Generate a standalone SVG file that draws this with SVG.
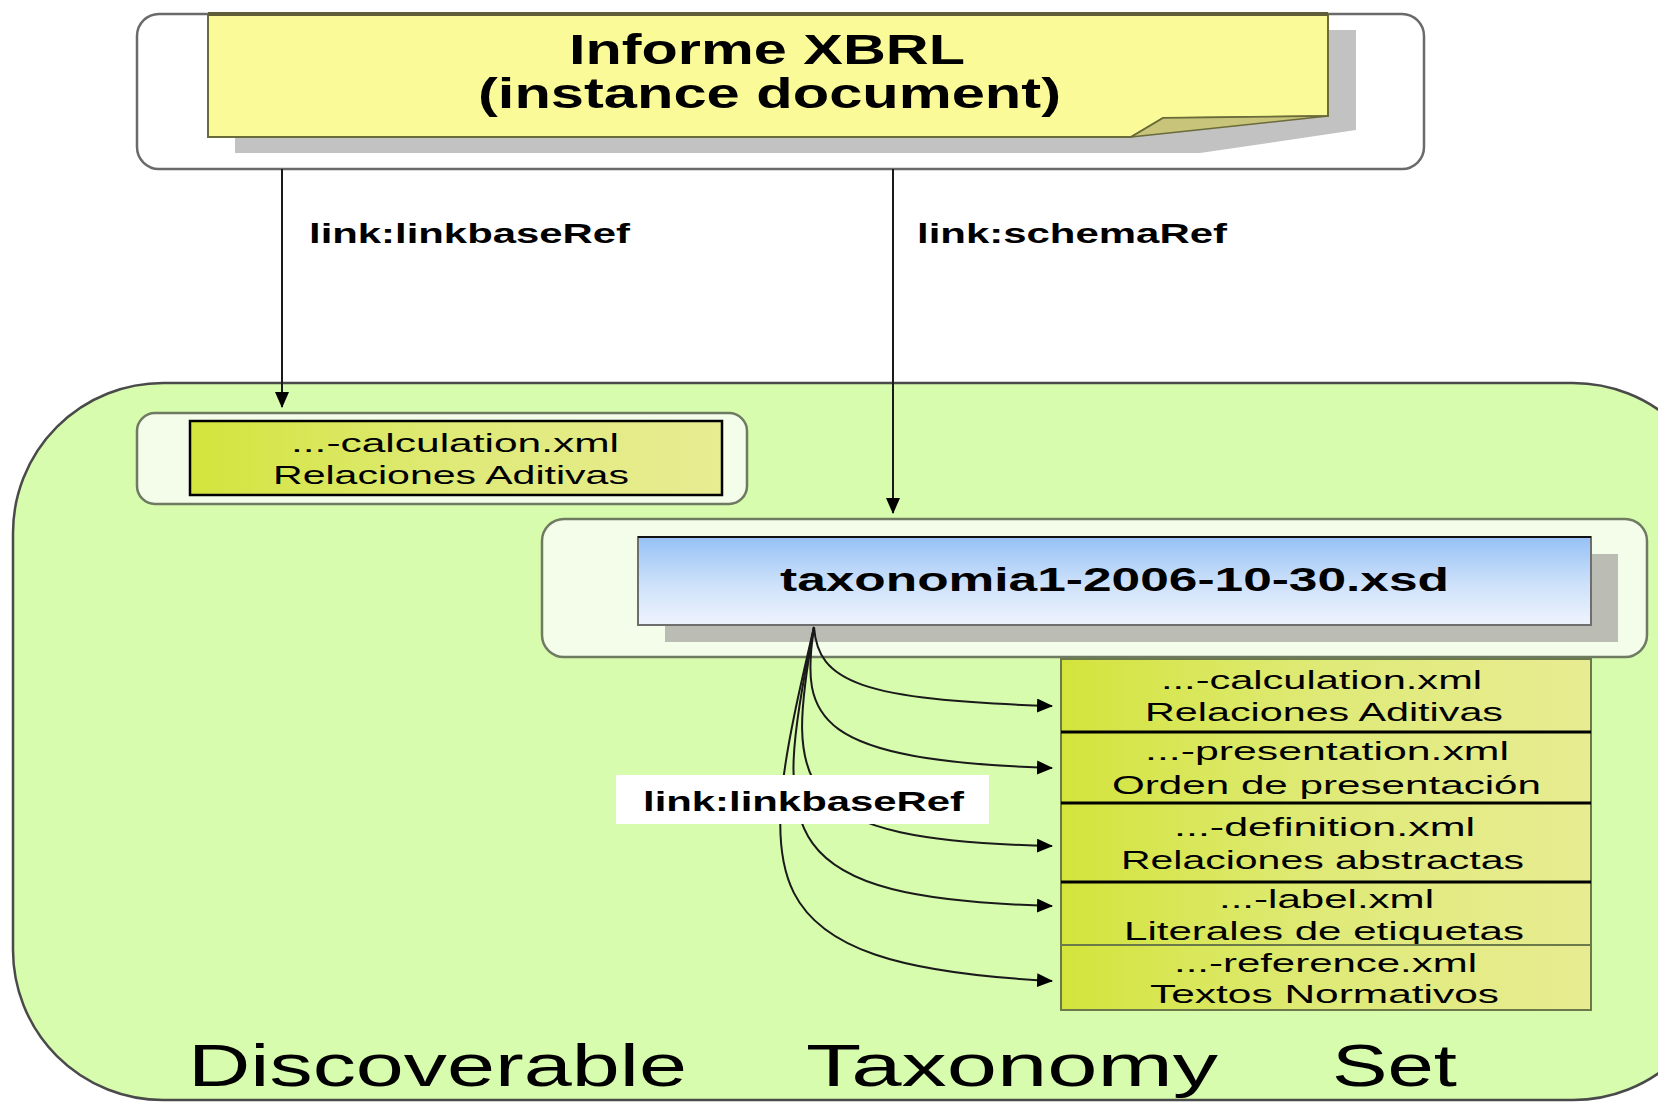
<svg xmlns="http://www.w3.org/2000/svg" width="1658" height="1104" viewBox="0 0 1658 1104">
<style>
  .t { font-family: "Liberation Sans", Arial, sans-serif; fill: #000; }
  .b { font-weight: bold; }
  .cont { fill: #f4fdea; stroke: #6f7a62; stroke-width: 2.5; }
  .row { fill: url(#gy); stroke: #6b7a48; stroke-width: 2; }
  .con { fill: none; stroke: #1a1a1a; stroke-width: 2; }
</style>
<defs>
  <linearGradient id="gy" x1="0" y1="0" x2="1" y2="0">
    <stop offset="0" stop-color="#d3e43c"/>
    <stop offset="0.5" stop-color="#dfea78"/>
    <stop offset="1" stop-color="#e8ec92"/>
  </linearGradient>
  <linearGradient id="gb" x1="0" y1="0" x2="0" y2="1">
    <stop offset="0" stop-color="#95c1f6"/>
    <stop offset="0.55" stop-color="#cfe2fa"/>
    <stop offset="1" stop-color="#eef4fd"/>
  </linearGradient>
  <marker id="ah" markerUnits="userSpaceOnUse" markerWidth="16" markerHeight="14" refX="15" refY="7" orient="auto">
    <path d="M0,0 L16,7 L0,14 z" fill="#000"/>
  </marker>
</defs>

<rect width="1658" height="1104" fill="#fff"/>

<!-- Discoverable Taxonomy Set container -->
<g id="dts">
  <rect x="13" y="383" width="1710" height="717" rx="150" ry="150" fill="#d8fcae" stroke="#4a4a4a" stroke-width="2.5"/>
  <text class="t" x="188" y="1086" font-size="60" textLength="499" lengthAdjust="spacingAndGlyphs">Discoverable</text>
  <text class="t" x="806" y="1086" font-size="60" textLength="412" lengthAdjust="spacingAndGlyphs">Taxonomy</text>
  <text class="t" x="1332" y="1086" font-size="60" textLength="125" lengthAdjust="spacingAndGlyphs">Set</text>
</g>

<!-- Instance document -->
<g id="instance">
  <rect x="137" y="14" width="1287" height="155" rx="22" ry="22" fill="#fff" stroke="#6a6a6a" stroke-width="2.5"/>
  <path d="M235,30 H1356 V130 L1200,153 H235 z" fill="#c2c2c2"/>
  <path d="M208,14 H1328 V116 L1163,118 L1131,137 H208 z" fill="#fafa98" stroke="#6a6a3a" stroke-width="2"/>
  <path d="M208,14 H1328" stroke="#5e5e36" stroke-width="4"/>
  <path d="M1131,137 L1163,118 L1328,116 z" fill="#c8c57a" stroke="#6a6a3a" stroke-width="1.5"/>
  <text class="t b" x="569" y="64" font-size="42" textLength="396" lengthAdjust="spacingAndGlyphs">Informe XBRL</text>
  <text class="t b" x="478" y="108" font-size="42" textLength="583" lengthAdjust="spacingAndGlyphs">(instance document)</text>
</g>

<!-- Left calculation linkbase -->
<g id="calc-left">
  <rect class="cont" x="137" y="413" width="610" height="91" rx="18" ry="18"/>
  <rect x="190" y="421" width="532" height="74" fill="url(#gy)" stroke="#000" stroke-width="2.5"/>
  <text class="t" x="291" y="452" font-size="25" textLength="328" lengthAdjust="spacingAndGlyphs">...-calculation.xml</text>
  <text class="t" x="273" y="484" font-size="25" textLength="356" lengthAdjust="spacingAndGlyphs">Relaciones Aditivas</text>
</g>

<!-- Taxonomy schema -->
<g id="taxonomy">
  <rect class="cont" x="542" y="519" width="1105" height="138" rx="22" ry="22"/>
  <rect x="665" y="554" width="953" height="88" fill="#bbbdb4"/>
  <rect x="638" y="537" width="953" height="88" fill="url(#gb)" stroke="#6e6e6e" stroke-width="2"/>
  <path d="M638,537 H1591" stroke="#111" stroke-width="2"/>
  <text class="t b" x="780" y="591" font-size="34" textLength="669" lengthAdjust="spacingAndGlyphs">taxonomia1-2006-10-30.xsd</text>
</g>

<!-- Linkbase stack -->
<g id="calc">
  <rect class="row" x="1061" y="659" width="530" height="73"/>
  <text class="t" x="1161" y="689" font-size="25" textLength="321" lengthAdjust="spacingAndGlyphs">...-calculation.xml</text>
  <text class="t" x="1145" y="721" font-size="25" textLength="358" lengthAdjust="spacingAndGlyphs">Relaciones Aditivas</text>
</g>
<g id="presentation">
  <rect class="row" x="1061" y="732" width="530" height="71"/>
  <text class="t" x="1145" y="760" font-size="25" textLength="364" lengthAdjust="spacingAndGlyphs">...-presentation.xml</text>
  <text class="t" x="1112" y="794" font-size="25" textLength="429" lengthAdjust="spacingAndGlyphs">Orden de presentación</text>
</g>
<g id="definition">
  <rect class="row" x="1061" y="803" width="530" height="79"/>
  <text class="t" x="1174" y="836" font-size="25" textLength="301" lengthAdjust="spacingAndGlyphs">...-definition.xml</text>
  <text class="t" x="1121" y="869" font-size="25" textLength="403" lengthAdjust="spacingAndGlyphs">Relaciones abstractas</text>
</g>
<g id="label">
  <rect class="row" x="1061" y="882" width="530" height="63"/>
  <text class="t" x="1219" y="908" font-size="25" textLength="215" lengthAdjust="spacingAndGlyphs">...-label.xml</text>
  <text class="t" x="1124" y="940" font-size="25" textLength="400" lengthAdjust="spacingAndGlyphs">Literales de etiquetas</text>
</g>
<g id="reference">
  <rect class="row" x="1061" y="945" width="530" height="65"/>
  <text class="t" x="1174" y="972" font-size="25" textLength="303" lengthAdjust="spacingAndGlyphs">...-reference.xml</text>
  <text class="t" x="1150" y="1003" font-size="25" textLength="349" lengthAdjust="spacingAndGlyphs">Textos Normativos</text>
</g>
<g id="separators">
  <path d="M1061,732 H1591 M1061,803 H1591 M1061,882 H1591" stroke="#000" stroke-width="3"/>
</g>

<!-- Connectors -->
<g id="connectors">
  <path class="con" d="M282,169 V407" marker-end="url(#ah)"/>
  <path class="con" d="M893,169 V513" marker-end="url(#ah)"/>
  <path class="con" d="M814,627 C818,682 860,700 1052,706" marker-end="url(#ah)"/>
  <path class="con" d="M814,627 C800,720 815,760 1052,768" marker-end="url(#ah)"/>
  <path class="con" d="M814,627 C785,790 790,840 1052,846" marker-end="url(#ah)"/>
  <path class="con" d="M814,627 C770,840 775,898 1052,906" marker-end="url(#ah)"/>
  <path class="con" d="M814,627 C755,880 740,965 1052,981" marker-end="url(#ah)"/>
</g>

<!-- Connector labels -->
<g id="labels">
  <text class="t b" x="309" y="243" font-size="28" textLength="321" lengthAdjust="spacingAndGlyphs">link:linkbaseRef</text>
  <text class="t b" x="917" y="243" font-size="28" textLength="310" lengthAdjust="spacingAndGlyphs">link:schemaRef</text>
  <rect x="616" y="775" width="373" height="49" fill="#fff"/>
  <text class="t b" x="643" y="811" font-size="28" textLength="321" lengthAdjust="spacingAndGlyphs">link:linkbaseRef</text>
</g>
</svg>
